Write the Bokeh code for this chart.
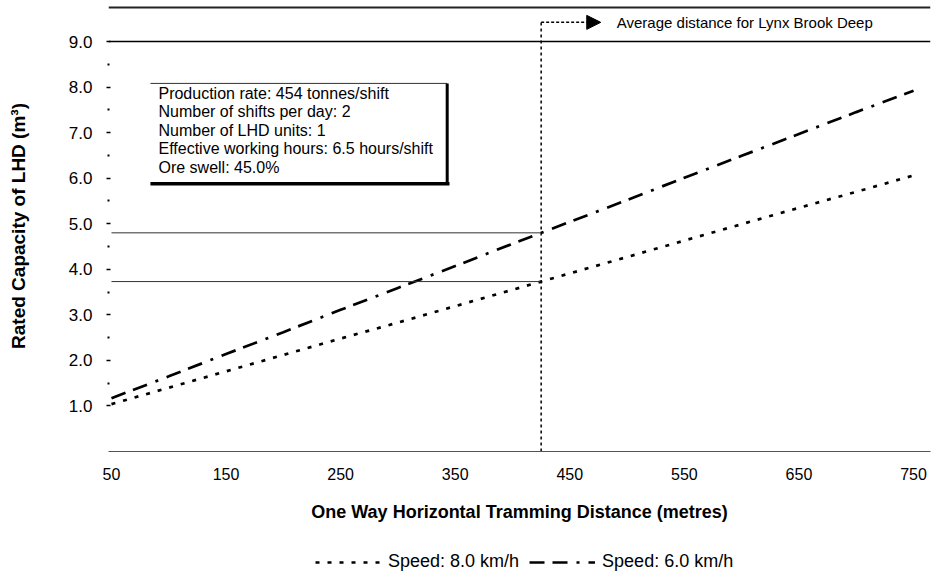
from bokeh.plotting import figure
from bokeh.layouts import column
from bokeh.models import (Range1d, FixedTicker, Span, Arrow, NormalHead, Legend,
                          LegendItem, Label, PrintfTickFormatter)
from bokeh.embed import file_html
from bokeh.resources import INLINE
from bokeh.core.properties import value

# ---------------- data ----------------
distance = [50, 100, 150, 200, 250, 300, 350, 400, 450, 500, 550, 600, 650, 700, 750]
cap_8kmh = [1.04, 1.40, 1.76, 2.12, 2.48, 2.83, 3.19, 3.55, 3.91, 4.27, 4.63, 4.99, 5.35, 5.70, 6.06]
cap_6kmh = [1.17, 1.65, 2.14, 2.62, 3.11, 3.59, 4.07, 4.56, 5.04, 5.52, 6.01, 6.49, 6.97, 7.45, 7.92]
series_labels = ["Speed: 8.0 km/h", "Speed: 6.0 km/h"]

x_ticks = [50, 150, 250, 350, 450, 550, 650, 750]
y_ticks = [1, 2, 3, 4, 5, 6, 7, 8, 9]
y_minor = [1.5, 2.5, 3.5, 4.5, 5.5, 6.5, 7.5, 8.5]

avg_distance = 425
avg_capacity = [4.80, 3.73]
avg_label = "Average distance for Lynx Brook Deep"

info_lines = [
    "Production rate: 454 tonnes/shift",
    "Number of shifts per day: 2",
    "Number of LHD units: 1",
    "Effective working hours: 6.5 hours/shift",
    "Ore swell: 45.0%",
]

x_title = "One Way Horizontal Tramming Distance (metres)"
y_title = "Rated Capacity of LHD (m\u00b3)"

# ---------------- layout constants ----------------
FONT = "Liberation Sans"
ANN_Y = 9.42
TOP_RULE = 9.746
BOX_L, BOX_R, BOX_T, BOX_B = 84, 343, 8.08, 5.88
TXT_X, TXT_Y0, TXT_DY = 91, 7.86, 0.406
DOT = dict(line_color="black", line_width=2.7, line_dash="4 8")
DASHDOT = dict(line_color="black", line_width=2.7, line_dash="15 8 15 9 3 9")
W = 931

p = figure(width=W, height=530, output_backend="svg", toolbar_location=None,
           x_range=Range1d(47.4, 764.8), y_range=Range1d(0, 9.90),
           min_border_left=108, min_border_right=1, min_border_top=0,
           min_border_bottom=79)
p.outline_line_color = None
p.grid.visible = False
p.background_fill_color = "white"
p.border_fill_color = "white"

# x axis
xa = p.xaxis[0]
xa.ticker = FixedTicker(ticks=x_ticks)
xa.major_tick_in = 0
xa.major_tick_out = 0
xa.minor_tick_in = 0
xa.minor_tick_out = 0
xa.axis_line_color = "#555555"
xa.axis_line_width = 1
xa.major_label_standoff = 16
xa.major_label_text_font = FONT
xa.major_label_text_font_size = "16px"
xa.major_label_text_color = "black"
xa.axis_label = x_title
xa.axis_label_text_font = FONT
xa.axis_label_text_font_style = "bold"
xa.axis_label_text_font_size = "18px"
xa.axis_label_text_color = "black"
xa.axis_label_standoff = 19

# y axis
ya = p.yaxis[0]
ya.ticker = FixedTicker(ticks=y_ticks, minor_ticks=y_minor)
ya.formatter = PrintfTickFormatter(format="%.1f")
ya.axis_line_color = None
ya.major_tick_in = 2
ya.major_tick_out = 2
ya.major_tick_line_width = 1.5
ya.minor_tick_in = 1
ya.minor_tick_out = 1
ya.minor_tick_line_width = 2
ya.major_label_standoff = 14
ya.major_label_text_font = FONT
ya.major_label_text_font_size = "17px"
ya.major_label_text_color = "black"
ya.axis_label = y_title
ya.axis_label_text_font = FONT
ya.axis_label_text_font_style = "bold"
ya.axis_label_text_font_size = "19px"
ya.axis_label_text_color = "black"
ya.axis_label_standoff = 37

# top rule and line at 9.0
p.add_layout(Span(location=TOP_RULE, dimension="width", line_color="#222222", line_width=2))
p.add_layout(Span(location=y_ticks[-1], dimension="width", line_color="black", line_width=1.5))

# series
r8 = p.line(distance, cap_8kmh, **DOT)
r6 = p.line(distance, cap_6kmh, **DASHDOT)

# reference lines at average distance
for c in avg_capacity:
    p.line([distance[0], avg_distance], [c, c], line_color="#333333", line_width=1)
p.line([avg_distance, avg_distance], [0, ANN_Y], line_color="black", line_width=1.5,
       line_dash="3 3")
p.add_layout(Arrow(end=NormalHead(size=14, fill_color="black", line_color="black"),
                   x_start=avg_distance, y_start=ANN_Y, x_end=avg_distance + 52, y_end=ANN_Y,
                   line_color="black", line_width=1.5, line_dash="3 2"))
p.add_layout(Label(x=avg_distance + 66, y=ANN_Y, text=avg_label, text_baseline="middle",
                   text_font=FONT, text_font_size="15px", text_color="black"))

# info box
p.line([BOX_L, BOX_R], [BOX_T, BOX_T], line_color="#333333", line_width=1)
p.line([BOX_R, BOX_R], [BOX_B, BOX_T], line_color="black", line_width=3)
p.line([BOX_L, BOX_R + 2], [BOX_B, BOX_B], line_color="black", line_width=3.5)
p.text(x=[TXT_X] * len(info_lines), y=[TXT_Y0 - i * TXT_DY for i in range(len(info_lines))],
       text=info_lines, text_baseline="middle", text_align="left",
       text_font=value(FONT), text_font_size="16px", text_color="black")

# legend strip below the chart (series redrawn off-range, used only for legend swatches)
pl = figure(width=W, height=42, output_backend="svg", toolbar_location=None,
            x_range=Range1d(-2, -1), y_range=Range1d(-2, -1),
            min_border_left=0, min_border_right=0, min_border_top=0, min_border_bottom=0)
pl.axis.visible = False
pl.grid.visible = False
pl.outline_line_color = None
pl.border_fill_color = "white"
pl.background_fill_color = "white"
l8 = pl.line(distance, cap_8kmh, **DOT)
l6 = pl.line(distance, cap_6kmh, **DASHDOT)
legend = Legend(items=[LegendItem(label=series_labels[0], renderers=[l8]),
                       LegendItem(label=series_labels[1], renderers=[l6])],
                orientation="horizontal", location=(207, 0),
                glyph_width=66, glyph_height=14, label_height=14, label_standoff=7,
                spacing=10, padding=0, margin=0,
                border_line_color=None, background_fill_alpha=0,
                label_text_font=FONT, label_text_font_size="18px",
                label_text_color="black")
pl.add_layout(legend, "center")

open("out.html", "w").write(file_html(column(p, pl, spacing=0), INLINE))
